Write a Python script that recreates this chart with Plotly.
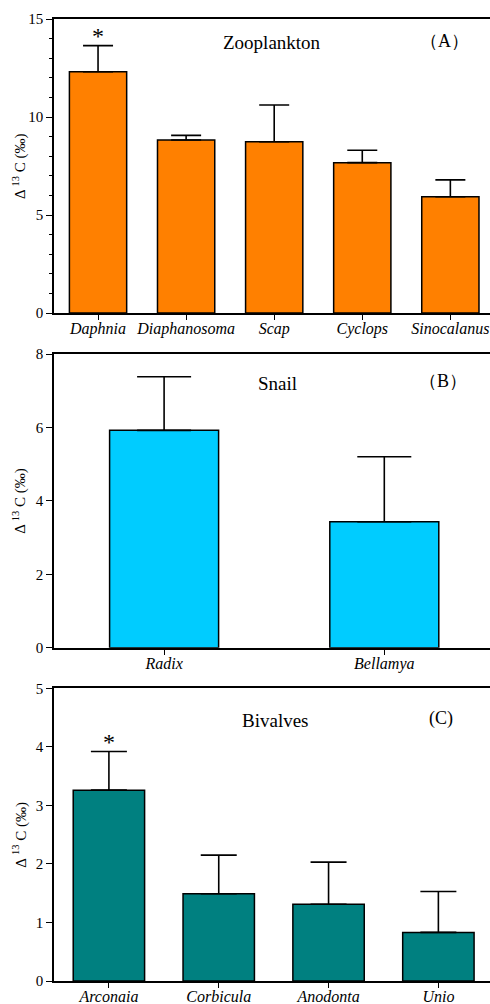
import plotly.graph_objects as go

# ---- data ----
zoo_cats = ["Daphnia", "Diaphanosoma", "Scap", "Cyclops", "Sinocalanus"]
zoo_vals = [12.31, 8.83, 8.74, 7.67, 5.93]
zoo_err = [1.33, 0.23, 1.87, 0.63, 0.86]

snail_cats = ["Radix", "Bellamya"]
snail_vals = [5.92, 3.43]
snail_err = [1.46, 1.77]

biv_cats = ["Arconaia", "Corbicula", "Anodonta", "Unio"]
biv_vals = [3.26, 1.49, 1.31, 0.83]
biv_err = [0.66, 0.66, 0.72, 0.70]

W, H = 490, 1004
FONT = "Liberation Serif, Times New Roman, serif"

def px_x(x):
    return x / W

def px_y(y):
    return (H - y) / H

fig = go.Figure()

panels = [
    dict(cats=zoo_cats, vals=zoo_vals, err=zoo_err, color="#FF8000", top=19, bot=313,
         rng=[0, 15], dtick=5, minor=1, width=0.65, cap=15, xr=[-0.5, 4.45],
         title="Zooplankton", tx=272, ty=43, lab="（A）", lx=444, ly=41, star=[0]),
    dict(cats=snail_cats, vals=snail_vals, err=snail_err, color="#00CCFF", top=354, bot=647.7,
         rng=[0, 8], dtick=2, minor=None, width=0.495, cap=27, xr=[-0.5, 1.48],
         title="Snail", tx=277, ty=383, lab="（B）", lx=443, ly=381, star=[]),
    dict(cats=biv_cats, vals=biv_vals, err=biv_err, color="#008080", top=688.3, bot=981,
         rng=[0, 5], dtick=1, minor=None, width=0.65, cap=18, xr=[-0.5, 3.47],
         title="Bivalves", tx=275, ty=720, lab="(C)", lx=441, ly=718, star=[0]),
]

for i, p in enumerate(panels):
    n = "" if i == 0 else str(i + 1)
    xa = "x" + n
    ya = "y" + n
    fig.add_trace(go.Bar(
        x=p["cats"], y=p["vals"], width=p["width"],
        marker=dict(color=p["color"], line=dict(color="black", width=1.5)),
        error_y=dict(type="data", symmetric=False, array=p["err"],
                     arrayminus=[0] * len(p["err"]), color="black",
                     thickness=1.6, width=p["cap"]),
        xaxis=xa, yaxis=ya, showlegend=False,
    ))
    yd = [px_y(p["bot"]), px_y(p["top"])]
    xkw = dict(domain=[px_x(54), 1.0], range=p["xr"], anchor=ya,
               showline=True, linecolor="black", linewidth=1.6, mirror=True,
               ticks="outside", ticklen=5, tickwidth=1.4, tickcolor="black",
               ticklabelstandoff=-5,
               tickfont=dict(family=FONT, size=16, color="black", style="italic"),
               showgrid=False, zeroline=False, automargin=False)
    ykw = dict(domain=yd, range=p["rng"], anchor=xa,
               showline=True, linecolor="black", linewidth=1.6,
               ticks="outside", ticklen=6, tickwidth=1.4, tickcolor="black",
               dtick=p["dtick"], tick0=0,
               tickfont=dict(family=FONT, size=15, color="black"),
               showgrid=False, zeroline=False, automargin=False)
    if p["minor"]:
        ykw["minor"] = dict(dtick=p["minor"], ticks="outside", ticklen=3,
                            tickwidth=1.2, tickcolor="black", showgrid=False)
    fig.update_layout(**{("xaxis" + n): xkw, ("yaxis" + n): ykw})

    fig.add_annotation(x=px_x(p["tx"]), y=px_y(p["ty"]), xref="paper", yref="paper",
                       xanchor="center", yanchor="middle",
                       text=p["title"], showarrow=False,
                       font=dict(family=FONT, size=19, color="black"))
    fig.add_annotation(x=px_x(p["lx"]), y=px_y(p["ly"]), xref="paper", yref="paper",
                       xanchor="center", yanchor="middle",
                       text=p["lab"], showarrow=False,
                       font=dict(family=FONT, size=18, color="black"))
    fig.add_annotation(x=px_x(20), y=px_y((p["top"] + p["bot"]) / 2), xref="paper",
                       yref="paper", xanchor="center", yanchor="middle",
                       text="Δ <sup>13</sup> C (‰)", textangle=-90,
                       showarrow=False, font=dict(family=FONT, size=15, color="black"))
    for k in p["star"]:
        fig.add_annotation(x=p["cats"][k], y=p["vals"][k] + p["err"][k], xref=xa, yref=ya,
                           text="*", showarrow=False, yanchor="bottom", yshift=-5,
                           font=dict(family=FONT, size=24, color="black"))

fig.update_layout(width=W, height=H, margin=dict(l=0, r=0, t=0, b=0),
                  plot_bgcolor="white", paper_bgcolor="white", bargap=0.35)

fig.write_html("out.html", config={"displayModeBar": False},
               post_script="document.body.style.margin='0';document.body.style.overflow='hidden';")
